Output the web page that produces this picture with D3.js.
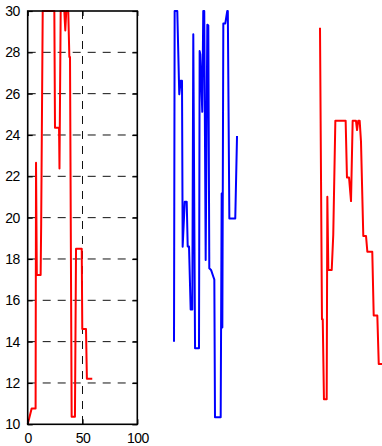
<!DOCTYPE html>
<html>
<head>
<meta charset="utf-8">
<script src="https://cdn.jsdelivr.net/npm/d3@7"></script>
<style>
  body { margin: 0; background: #fff; }
  svg { display: block; }
  .tick text { font-family: "Liberation Sans", Arial, sans-serif; font-size: 14px; letter-spacing: -0.6px; fill: #000; }
</style>
</head>
<body>
<div id="chart"></div>
<script>
// three series, all on the same y range, x in the same units
const leftX  = [0, 3.6, 7.2, 7.6, 8.3, 11.8, 12.3, 13.7, 24.3, 24.9, 28.6, 29.0, 30.1, 33.4, 34.3, 35.2, 37.0, 38.0, 38.6, 40.1, 43.1, 44.1, 49.3, 49.8, 53.2, 54.0, 58.9];
const leftY  = [10, 10.77, 10.77, 22.66, 17.22, 17.22, 19.72, 30, 30, 24.35, 24.35, 22.38, 30, 30, 29.06, 30, 30, 27.78, 27.78, 10.37, 10.37, 18.5, 18.5, 14.61, 14.61, 12.2, 12.2];

const blueX  = [0, 0.6, 3.0, 4.8, 6.1, 7.3, 7.9, 9.8, 11.6, 12.5, 13.7, 15.2, 16.7, 17.6, 19.2, 22.8, 23.4, 24.0, 25.8, 26.7, 27.6, 28.9, 30.4, 31.3, 32.2, 33.8, 35.9, 36.8, 37.4, 42.6, 43.5, 44.1, 45.0, 46.8, 48.6, 49.1, 50.5, 55.9, 57.5];
const blueY  = [14.0, 30, 30, 25.97, 26.62, 26.62, 18.59, 20.77, 20.77, 18.6, 18.6, 15.56, 15.56, 28.88, 13.68, 13.68, 28.06, 27.9, 25.12, 30, 30, 17.95, 29.34, 29.3, 17.55, 17.47, 17.14, 17.0, 10.34, 10.34, 21.17, 14.69, 29.4, 29.4, 30, 30, 19.96, 19.96, 23.95];

const rightX = [0, 1.8, 2.5, 3.6, 6.1, 6.7, 7.6, 10.7, 12.1, 14.0, 23.4, 24.6, 26.5, 28.3, 29.8, 32.8, 33.8, 34.9, 36.2, 37.4, 39.5, 42.0, 43.2, 47.7, 49.0, 52.3, 53.6, 57.5];
const rightY = [29.19, 15.08, 15.08, 11.21, 11.21, 21.01, 17.47, 17.47, 19.17, 24.69, 24.69, 21.94, 21.94, 20.8, 24.69, 24.69, 24.24, 24.69, 24.69, 23.68, 19.11, 19.11, 18.35, 18.35, 15.26, 15.26, 12.92, 12.92];

const yTicks = [10, 12, 14, 16, 18, 20, 22, 24, 26, 28, 30];
const xTicks = [0, 50, 100];

const W = 382, H = 446;
const svg = d3.select("#chart").append("svg")
    .attr("width", W)
    .attr("height", H);

const y = d3.scaleLinear().domain([10, 30]).range([424.3, 11]);
const x = d3.scaleLinear().domain([0, 100]).range([27.7, 137.3]);
// the other two lines sit to the right, same x step
const xBlue  = d3.scaleLinear().domain([0, 100]).range([174, 174 + 109.6]);
const xRight = d3.scaleLinear().domain([0, 100]).range([320, 320 + 109.6]);

// grid
svg.append("g")
    .selectAll("line")
    .data(yTicks.filter(d => d > 10 && d < 30))
    .join("line")
        .attr("x1", x(0)).attr("x2", x(100))
        .attr("y1", d => y(d)).attr("y2", d => y(d))
        .attr("stroke", "#111")
        .attr("stroke-width", 1)
        .attr("stroke-dasharray", "8,7");

svg.append("line")
    .attr("x1", x(50)).attr("x2", x(50))
    .attr("y1", y(30)).attr("y2", y(10))
    .attr("stroke", "#111")
    .attr("stroke-width", 1)
    .attr("stroke-dasharray", "8,7");

// lines
function drawLine(xs, ys, sx, color) {
    const pts = xs.map((d, i) => [d, ys[i]]);
    const line = d3.line().x(d => sx(d[0])).y(d => y(d[1]));
    svg.append("path")
        .datum(pts)
        .attr("d", line)
        .attr("fill", "none")
        .attr("stroke", color)
        .attr("stroke-width", 2)
        .attr("stroke-linejoin", "round");
}

drawLine(leftX, leftY, x, "#ff0000");
drawLine(blueX, blueY, xBlue, "#0000ff");
drawLine(rightX, rightY, xRight, "#ff0000");

// axes
const yAxis = d3.axisLeft(y).tickValues(yTicks).tickSize(-5).tickPadding(8).tickFormat(d3.format("d"));
svg.append("g")
    .attr("transform", "translate(" + x(0) + ",0)")
    .call(yAxis);

const yAxisR = d3.axisRight(y).tickValues(yTicks).tickSize(-5).tickFormat("");
svg.append("g")
    .attr("transform", "translate(" + x(100) + ",0)")
    .call(yAxisR);

const xAxis = d3.axisBottom(x).tickValues(xTicks).tickSize(-5).tickPadding(9);
svg.append("g")
    .attr("transform", "translate(0," + y(10) + ")")
    .call(xAxis);

const xAxisT = d3.axisTop(x).tickValues(xTicks).tickSize(-5).tickFormat("");
svg.append("g")
    .attr("transform", "translate(0," + y(30) + ")")
    .call(xAxisT);

svg.selectAll(".domain").remove();
svg.selectAll(".tick line").attr("stroke", "#000").attr("stroke-width", 1.2);

// frame
svg.append("rect")
    .attr("x", x(0)).attr("y", y(30))
    .attr("width", x(100) - x(0))
    .attr("height", y(10) - y(30))
    .attr("fill", "none")
    .attr("stroke", "#000")
    .attr("stroke-width", 1.6);
</script>
</body>
</html>
